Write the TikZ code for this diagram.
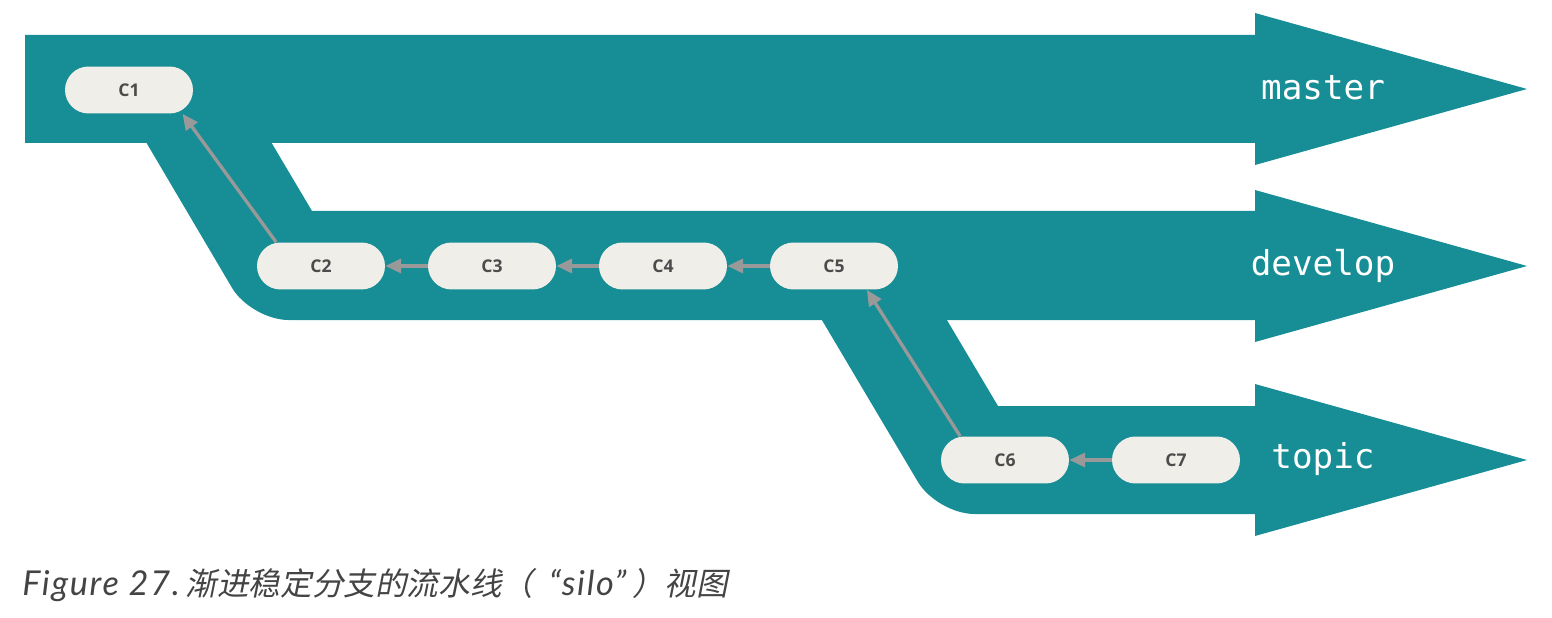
\documentclass[tikz,border=0pt]{standalone}
\usepackage{fontspec}
\setmainfont{Open Sans}
\setmonofont{DejaVu Sans Mono}
\newfontfamily\capfont[LetterSpace=5]{Lato}
\newfontfamily\cjk[FakeSlant=0.2]{Noto Sans CJK SC}
\usetikzlibrary{arrows.meta}
\definecolor{branch}{HTML}{178D96}
\definecolor{commitfill}{HTML}{EFEEE8}
\definecolor{parentline}{HTML}{999999}
\definecolor{captext}{HTML}{444444}

\tikzset{
    commit/.style={rectangle, rounded corners=0.47cm, fill=commitfill,
        minimum width=2.56cm, minimum height=0.94cm, inner sep=0pt,
        text=black!70, font=\fontsize{10}{12}\selectfont\bfseries},
    parent/.style={draw=parentline, line width=1.9pt,
        -{Triangle[length=9pt,width=8pt]}},
    branchname/.style={text=white, font=\ttfamily\fontsize{19.5}{22}\selectfont}
}

\begin{document}
\begin{tikzpicture}[x=0.02cm, y=-0.02cm]
        \useasboundingbox (0,0) rectangle (1552,618);
        \fill[branch] (25,35) -- (1255,35) -- (1255,13) -- (1527,89) 
            -- (1255,165) -- (1255,143) -- (25,143) -- cycle;
        \fill[branch] (133,120) -- (258,120) -- (312,211) -- (1255,211) 
            -- (1255,190) -- (1527,266) -- (1255,342) -- (1255,320) 
            [rounded corners=0.75cm] -- (251,320) [sharp corners] -- cycle;
        \fill[branch] (810,300) -- (935,300) -- (998,406) -- (1255,406) 
            -- (1255,384) -- (1527,460) -- (1255,536) -- (1255,514) 
            [rounded corners=0.75cm] -- (937,514) [sharp corners] -- cycle;
        \node[commit] (C1) at (129,90) {C1};
        \node[commit] (C2) at (321,266) {C2};
        \node[commit] (C3) at (492,266) {C3};
        \node[commit] (C4) at (663,266) {C4};
        \node[commit] (C5) at (834,266) {C5};
        \node[commit] (C6) at (1005,460) {C6};
        \node[commit] (C7) at (1176,460) {C7};
        \draw[parent] (C2.152) -- (C1.336);
        \draw[parent] (C3.west) -- (C2.east);
        \draw[parent] (C4.west) -- (C3.east);
        \draw[parent] (C5.west) -- (C4.east);
        \draw[parent] (C6.152) -- (C5.324);
        \draw[parent] (C7.west) -- (C6.east);
        \node[branchname] (master) at (1323,88) {master};
        \node[branchname] (develop) at (1323,266) {develop};
        \node[branchname] (topic) at (1323,459) {topic};
        \node[anchor=base west, inner sep=0pt, text=captext, 
            font=\capfont\itshape\fontsize{19.5}{22}\selectfont] (caption) at (22,595) 
            {Figure 27.\,{\cjk\fontsize{18}{22}\selectfont 渐进稳定分支的流水线（\hspace{0.5em}}“silo”{\cjk\fontsize{18}{22}\selectfont\hspace{0.2em}）视图}};
    \end{tikzpicture}
\end{document}
